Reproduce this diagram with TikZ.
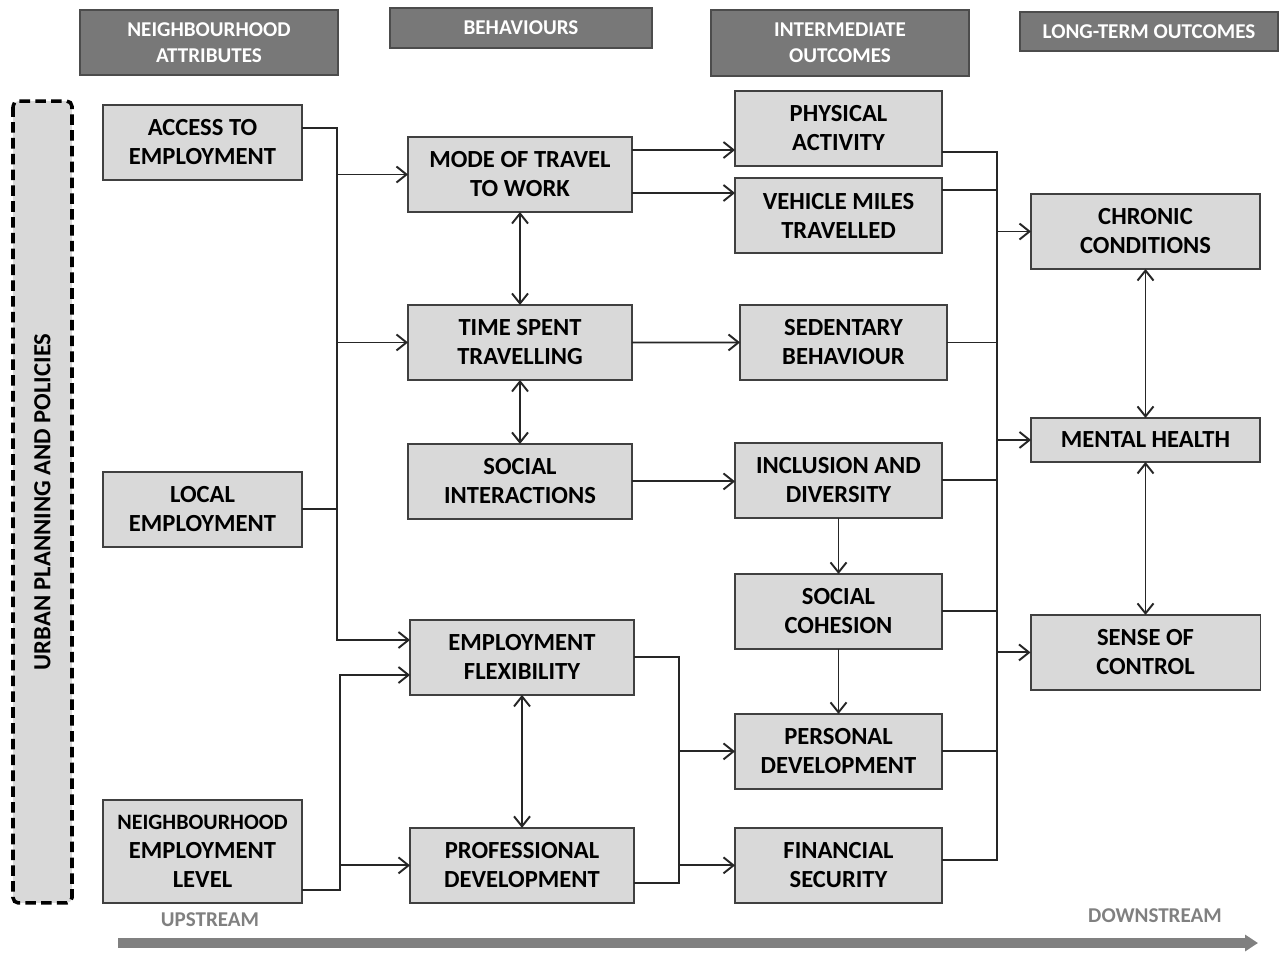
\documentclass[tikz,border=0pt]{standalone}
\usepackage{fontspec}
\setmainfont{Carlito}
\usepackage{xcolor}
\usepackage{tikz}
\usetikzlibrary{arrows.meta,positioning}

\definecolor{boxfill}{HTML}{D9D9D9}
\definecolor{boxline}{HTML}{404040}
\definecolor{headfill}{HTML}{787878}
\definecolor{flowgray}{HTML}{808080}

\begin{document}
\begin{tikzpicture}[
    x=0.02cm, y=-0.02cm,
    box/.style={rectangle, draw=boxline, fill=boxfill, line width=1.1pt, outer sep=0pt, minimum width=#1, minimum height=1.5cm, inner sep=2pt, align=center, font=\fontsize{14}{16.5}\selectfont\bfseries},
    box/.default=4.14cm,
    header/.style={rectangle, draw=black!70, fill=headfill, line width=1.1pt, minimum width=5.16cm, align=center, text=white, font=\fontsize{12}{14.7}\selectfont\bfseries},
    policybox/.style={rectangle, draw=black, fill=boxfill, line width=2pt, dash pattern=on 6pt off 3pt, rounded corners=3pt, minimum width=16.04cm, minimum height=1.18cm, font=\fontsize{14}{16.5}\selectfont\bfseries},
    arrow/.style={-{Straight Barb[length=0.2cm,width=0.32cm]}, line width=1.1pt, draw=black!85},
    darrow/.style={{Straight Barb[length=0.2cm,width=0.32cm]}-{Straight Barb[length=0.2cm,width=0.32cm]}, line width=1.1pt, draw=black!85},
    link/.style={line width=1.1pt, draw=black!85},
    flow/.style={-{Triangle[length=0.26cm,width=0.32cm]}, line width=0.2cm, draw=flowgray},
    stream/.style={text=flowgray, font=\fontsize{12}{14}\selectfont\bfseries}
]
\useasboundingbox (0,0) rectangle (1287,954);

% column headers
\node[header, minimum height=1.3cm] (hneigh) at (209,42.5) {NEIGHBOURHOOD\\ATTRIBUTES};
\node[header, minimum width=5.24cm, minimum height=0.8cm] (hbehav) at (521,28) {BEHAVIOURS};
\node[header, minimum height=1.32cm] (hinter) at (840,43) {INTERMEDIATE\\OUTCOMES};
\node[header, minimum height=0.78cm] (hlong) at (1149,31.5) {LONG-TERM OUTCOMES};

\node[policybox, rotate=90] (policy) at (42.5,502) {URBAN PLANNING AND POLICIES};

% neighbourhood attributes
\node[box=3.98cm] (access) at (202.5,142.5) {ACCESS TO\\EMPLOYMENT};
\node[box=3.98cm, below=5.84cm of access] (local) {LOCAL\\EMPLOYMENT};
\node[box=3.98cm, minimum height=2.06cm, below=5.06cm of local] (neighlevel) {{\fontsize{12.5}{16.5}\selectfont NEIGHBOURHOOD}\\EMPLOYMENT\\LEVEL};

% behaviours
\node[box=4.48cm] (mode) at (520,174.5) {MODE OF TRAVEL\\TO WORK};
\node[box=4.48cm, below=1.86cm of mode] (timespent) {TIME SPENT\\TRAVELLING};
\node[box=4.48cm, below=1.28cm of timespent] (socialint) {SOCIAL\\INTERACTIONS};
\node[box=4.48cm, below=2.02cm of socialint, xshift=0.04cm] (empflex) {EMPLOYMENT\\FLEXIBILITY};
\node[box=4.48cm, below=2.66cm of empflex] (profdev) {PROFESSIONAL\\DEVELOPMENT};

% intermediate outcomes
\node[box] (physical) at (838.5,128.5) {PHYSICAL\\ACTIVITY};
\node[box, below=0.24cm of physical] (vmt) {VEHICLE MILES\\TRAVELLED};
\node[box, below=1.04cm of vmt, xshift=0.1cm] (sedentary) {SEDENTARY\\BEHAVIOUR};
\node[box, below=1.26cm of sedentary, xshift=-0.1cm] (inclusion) {INCLUSION AND\\DIVERSITY};
\node[box, below=1.12cm of inclusion] (cohesion) {SOCIAL\\COHESION};
\node[box, below=1.3cm of cohesion] (persdev) {PERSONAL\\DEVELOPMENT};
\node[box, below=0.78cm of persdev] (finsec) {FINANCIAL\\SECURITY};

% long-term outcomes
\node[box=4.58cm] (chronic) at (1145.5,231.5) {CHRONIC\\CONDITIONS};
\node[box=4.58cm, minimum height=0.88cm, below=2.98cm of chronic] (mental) {MENTAL HEALTH};
\node[box=4.6cm, below=3.06cm of mental] (sense) {SENSE OF\\CONTROL};

% junctions
\coordinate (busleft) at (337,640);
\coordinate (buslow) at (340,675);
\coordinate (busmid) at (679,883);
\coordinate (busright) at (997,860);

% attributes to behaviours
\draw[arrow] ([yshift=0.29cm]access.east) -| (busleft) -- (busleft -| empflex.west);
\draw[arrow] (busleft |- mode) -- (mode.west);
\draw[arrow] (busleft |- timespent) -- (timespent.west);
\draw[link] (local.east) -- (local.east -| busleft);
\draw[arrow] ([yshift=-0.77cm]neighlevel.east) -| (buslow) -- (buslow -| empflex.west);
\draw[arrow] (buslow |- profdev) -- (profdev.west);

% behaviours
\draw[darrow] (mode) -- (timespent);
\draw[darrow] (timespent) -- (socialint);
\draw[darrow] (empflex) -- (profdev);

% behaviours to intermediate outcomes
\draw[arrow] ([yshift=0.49cm]mode.east) -- ([yshift=0.49cm]mode.east -| physical.west);
\draw[arrow] ([yshift=-0.37cm]mode.east) -- ([yshift=-0.37cm]mode.east -| vmt.west);
\draw[arrow] (timespent.east) -- (sedentary.west);
\draw[arrow] (socialint.east) -- (socialint.east -| inclusion.west);
\draw[arrow] (inclusion) -- (cohesion);
\draw[arrow] (cohesion) -- (persdev);
\draw[link] (empflex.east) -| (busmid) -- (busmid -| profdev.east);
\draw[arrow] (busmid |- persdev) -- (persdev.west);
\draw[arrow] (busmid |- finsec) -- (finsec.west);

% intermediate to long-term outcomes
\draw[link] ([yshift=-0.47cm]physical.east) -| (busright) -- (busright -| finsec.east);
\draw[link] ([yshift=0.51cm]vmt.east) -- ([yshift=0.51cm]vmt.east -| busright);
\foreach \n in {sedentary,inclusion,cohesion,persdev}
    \draw[link] (\n.east) -- (\n.east -| busright);
\foreach \n in {chronic,mental,sense}
    \draw[arrow] (busright |- \n) -- (\n.west);
\draw[darrow] (chronic) -- (mental);
\draw[darrow] (mental) -- (sense);

% upstream / downstream
\node[stream] (upstream) at (210,920) {UPSTREAM};
\node[stream] (downstream) at (1155,916) {DOWNSTREAM};
\coordinate (flowstart) at (118,943);
\coordinate (flowend) at (1258,943);
\draw[flow] (flowstart) -- (flowend);

\end{tikzpicture}
\end{document}
